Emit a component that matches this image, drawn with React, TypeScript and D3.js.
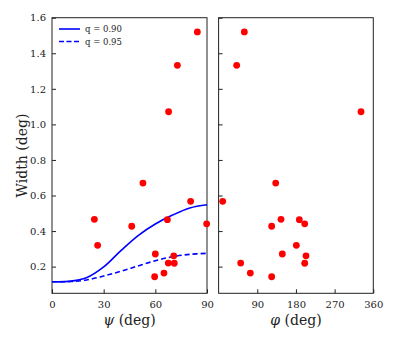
import React, { useEffect, useRef } from 'react';
import * as d3 from 'd3';

// measured sources: same objects shown against psi (left) and phi (right)
const psiValues = [24.6, 26.5, 46.3, 52.8, 60.0, 59.6, 65.0, 67.0, 67.5, 70.7, 71.0, 80.5, 89.8, 84.4, 72.8, 67.7];
const phiValues = [145.2, 180.9, 123.5, 132.9, 148.3, 123.5, 73.8, 187.9, 51.4, 203.4, 200.4, 9.5, 200.4, 59.9, 42.1, 331.4];
const widthValues = [0.466, 0.32, 0.427, 0.67, 0.271, 0.143, 0.164, 0.464, 0.22, 0.261, 0.219, 0.567, 0.441, 1.52, 1.332, 1.071];

// model curves
const curvePsi = [0, 10, 20, 30, 40, 50, 60, 70, 80, 90];
const curveQ90 = [0.115, 0.117, 0.137, 0.198, 0.29, 0.375, 0.44, 0.49, 0.53, 0.548];
const curveQ95 = [0.115, 0.116, 0.125, 0.147, 0.174, 0.204, 0.233, 0.256, 0.269, 0.275];

const yTicks = [0.2, 0.4, 0.6, 0.8, 1.0, 1.2, 1.4, 1.6];
const psiTicks = [0, 30, 60, 90];
const phiTicks = [90, 180, 270, 360];

const App = () => {
  const svgRef = useRef<SVGSVGElement>(null);

  useEffect(() => {
    const svg = d3.select(svgRef.current);
    svg.selectAll('*').remove();

    const font = "'DejaVu Serif', 'Liberation Serif', serif";
    const top = 17.7;
    const bottom = 293.3;

    const y = d3.scaleLinear().domain([0.05, 1.6]).range([bottom, top]);
    const xPsi = d3.scaleLinear().domain([0, 90]).range([52, 207]);
    const xPhi = d3.scaleLinear().domain([0, 360]).range([218.6, 373.3]);

    const drawPanel = (x, ticks, showYLabels) => {
      const [x0, x1] = x.range();
      const g = svg.append('g');

      // y ticks (inside)
      const yAxis = d3
        .axisLeft(y)
        .tickValues(yTicks)
        .tickSizeInner(-4)
        .tickSizeOuter(0)
        .tickPadding(6)
        .tickFormat(showYLabels ? d3.format('.1f') : () => '');
      g.append('g')
        .attr('transform', `translate(${x0},0)`)
        .call(yAxis)
        .attr('font-family', null)
        .call(a => a.select('.domain').remove())
        .selectAll('text')
        .style('font-family', font)
        .style('font-size', '10px')
        .attr('fill', '#222');

      // x ticks (inside)
      const xAxis = d3
        .axisBottom(x)
        .tickValues(ticks)
        .tickSizeInner(-4)
        .tickSizeOuter(0)
        .tickPadding(8)
        .tickFormat(d3.format('d'));
      g.append('g')
        .attr('transform', `translate(0,${bottom})`)
        .call(xAxis)
        .attr('font-family', null)
        .call(a => a.select('.domain').remove())
        .selectAll('text')
        .style('font-family', font)
        .style('font-size', '10px')
        .attr('fill', '#222');

      g.selectAll('.tick line').attr('stroke', '#222');

      // frame
      g.append('rect')
        .attr('x', x0)
        .attr('y', top)
        .attr('width', x1 - x0)
        .attr('height', bottom - top)
        .attr('fill', 'none')
        .attr('stroke', '#222')
        .attr('stroke-width', 1);
      return g;
    };

    const left = drawPanel(xPsi, psiTicks, true);
    const right = drawPanel(xPhi, phiTicks, false);

    // curves
    const line = (vals) =>
      d3
        .line<number>()
        .x((_, i) => xPsi(curvePsi[i]))
        .y(d => y(d))
        .curve(d3.curveCatmullRom)(vals);

    left
      .append('path')
      .attr('d', line(curveQ90))
      .attr('fill', 'none')
      .attr('stroke', '#0000ff')
      .attr('stroke-width', 1.6);

    left
      .append('path')
      .attr('d', line(curveQ95))
      .attr('fill', 'none')
      .attr('stroke', '#0000ff')
      .attr('stroke-width', 1.6)
      .attr('stroke-dasharray', '5,3');

    // points
    left
      .selectAll('circle')
      .data(widthValues)
      .enter()
      .append('circle')
      .attr('cx', (_, i) => xPsi(psiValues[i]))
      .attr('cy', d => y(d))
      .attr('r', 3.4)
      .attr('fill', '#ff0000');

    right
      .selectAll('circle')
      .data(widthValues)
      .enter()
      .append('circle')
      .attr('cx', (_, i) => xPhi(phiValues[i]))
      .attr('cy', d => y(d))
      .attr('r', 3.4)
      .attr('fill', '#ff0000');

    // legend
    const legendItems = [
      { label: 'q = 0.90', dash: null },
      { label: 'q = 0.95', dash: '5,2.5' }
    ];
    const legend = svg
      .selectAll('.legend')
      .data(legendItems)
      .enter()
      .append('g')
      .attr('transform', (_, i) => `translate(59,${29 + i * 12.5})`);
    legend
      .append('line')
      .attr('x1', 0)
      .attr('x2', 21)
      .attr('stroke', '#0000ff')
      .attr('stroke-width', 1.6)
      .attr('stroke-dasharray', d => d.dash);
    legend
      .append('text')
      .attr('x', 26)
      .attr('y', 3.2)
      .style('font-family', font)
      .style('font-size', '8.5px')
      .attr('fill', '#222')
      .text(d => d.label);

    // axis labels
    svg
      .append('text')
      .attr('transform', `translate(27,155.5) rotate(-90)`)
      .attr('text-anchor', 'middle')
      .style('font-family', font)
      .style('font-size', '14px')
      .attr('fill', '#222')
      .text('Width (deg)');

    const xLabel = (cx, sym) => {
      const t = svg
        .append('text')
        .attr('x', cx)
        .attr('y', 325)
        .attr('text-anchor', 'middle')
        .style('font-family', font)
        .style('font-size', '14px')
        .attr('fill', '#222');
      t.append('tspan').style('font-style', 'italic').text(sym);
      t.append('tspan').text(' (deg)');
    };
    xLabel(129.5, 'ψ');
    xLabel(296, 'φ');
  }, []);

  return (
    <svg
      ref={svgRef}
      width={415}
      height={346}
      style={{ position: 'absolute', left: 0, top: 0, background: '#fff' }}
    ></svg>
  );
};

export default App;
